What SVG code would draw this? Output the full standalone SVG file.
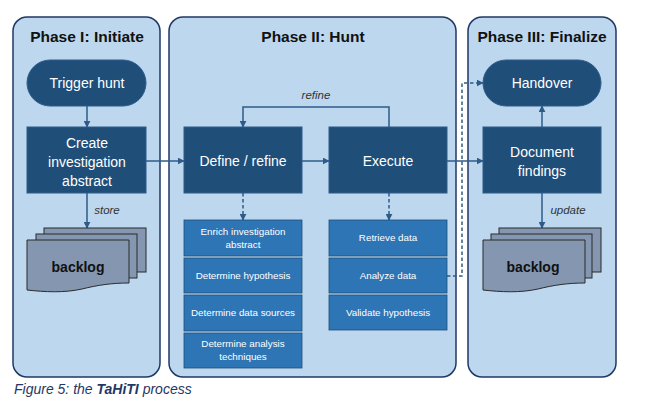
<svg xmlns="http://www.w3.org/2000/svg" width="662" height="407" viewBox="0 0 662 407">
<defs>
<style>
.panel{fill:#BDD7EE;stroke:#1F3864;stroke-width:1.5}
.title{font-family:"Liberation Sans",Arial,sans-serif;font-weight:bold;font-size:15.5px;fill:#111;text-anchor:middle}
.dark{fill:#1F4E79;stroke:#2E5C8A;stroke-width:1}
.sub{fill:#2E75B6;stroke:#1F4E79;stroke-width:0.8}
.t14{font-family:"Liberation Sans",Arial,sans-serif;font-size:14px;fill:#fff;text-anchor:middle}
.t9{font-family:"Liberation Sans",Arial,sans-serif;font-size:9.8px;fill:#fff;text-anchor:middle}
.lbl{font-family:"Liberation Sans",Arial,sans-serif;font-style:italic;font-size:11.5px;fill:#333;text-anchor:middle}
.doc{fill:#8496B0;stroke:#2B2B2B;stroke-width:1}
.bl{font-family:"Liberation Sans",Arial,sans-serif;font-weight:bold;font-size:14px;fill:#111;text-anchor:middle}
.conn{fill:none;stroke:#2E5C8A;stroke-width:1.5}
.dash{fill:none;stroke:#2E5C8A;stroke-width:1.5;stroke-dasharray:3.5,2.5}
</style>
<marker id="ah" viewBox="0 0 10 10" refX="9" refY="5" markerWidth="7" markerHeight="7" markerUnits="userSpaceOnUse" orient="auto">
<path d="M0,0 L10,5 L0,10 z" fill="#2E5C8A"/>
</marker>
</defs>

<g id="phase1">
<rect class="panel" x="13" y="17" width="147" height="360" rx="14"/>
<text class="title" x="87" y="42">Phase I: Initiate</text>
</g>
<g id="phase2">
<rect class="panel" x="169" y="17" width="287" height="360" rx="14"/>
<text class="title" x="313" y="42">Phase II: Hunt</text>
</g>
<g id="phase3">
<rect class="panel" x="468" y="17" width="148" height="360" rx="14"/>
<text class="title" x="542" y="42">Phase III: Finalize</text>
</g>

<g id="connectors">
<line class="conn" x1="87" y1="106" x2="87" y2="127" marker-end="url(#ah)"/>
<line class="conn" x1="87" y1="193" x2="87" y2="228" marker-end="url(#ah)"/>
<line class="conn" x1="146" y1="161" x2="184" y2="161" marker-end="url(#ah)"/>
<line class="conn" x1="302" y1="161" x2="329" y2="161" marker-end="url(#ah)"/>
<polyline class="conn" points="389,127 389,107 243,107 243,127" marker-end="url(#ah)"/>
<line class="dash" x1="243" y1="193" x2="243" y2="220" marker-end="url(#ah)"/>
<line class="dash" x1="389" y1="193" x2="389" y2="220" marker-end="url(#ah)"/>
<polyline class="dash" points="447,276 462,276 462,83 483,83" marker-end="url(#ah)"/>
<line class="conn" x1="447" y1="161" x2="483" y2="161" marker-end="url(#ah)"/>
<line class="conn" x1="542" y1="127" x2="542" y2="106" marker-end="url(#ah)"/>
<line class="conn" x1="542" y1="193" x2="542" y2="228" marker-end="url(#ah)"/>
<text class="lbl" x="107" y="214">store</text>
<text class="lbl" x="316" y="99">refine</text>
<text class="lbl" x="568" y="214">update</text>
</g>

<g id="trigger-hunt">
<rect class="dark" x="27" y="60" width="119" height="46" rx="23"/>
<text class="t14" x="87" y="88">Trigger hunt</text>
</g>
<g id="create-abstract">
<rect class="dark" x="27" y="127" width="119" height="66"/>
<text class="t14" x="87" y="148">Create</text>
<text class="t14" x="87" y="167">investigation</text>
<text class="t14" x="87" y="186">abstract</text>
</g>
<g id="backlog-1">
<rect class="doc" x="44" y="228" width="102" height="44"/>
<rect class="doc" x="36" y="234" width="101" height="44"/>
<path class="doc" d="M27,240 H129 V283 C112,283 98,285 82,289 C64,293 45,292 27,290 Z"/>
<text class="bl" x="78" y="272">backlog</text>
</g>

<g id="define-refine">
<rect class="dark" x="184" y="127" width="118" height="66"/>
<text class="t14" x="243" y="166">Define / refine</text>
</g>
<g id="execute">
<rect class="dark" x="329" y="127" width="118" height="66"/>
<text class="t14" x="388" y="166">Execute</text>
</g>
<g id="enrich">
<rect class="sub" x="184" y="220" width="118" height="36"/>
<text class="t9" x="243" y="235">Enrich investigation</text>
<text class="t9" x="243" y="248">abstract</text>
</g>
<g id="det-hypothesis">
<rect class="sub" x="184" y="258" width="118" height="35"/>
<text class="t9" x="243" y="279">Determine hypothesis</text>
</g>
<g id="det-sources">
<rect class="sub" x="184" y="295" width="118" height="36"/>
<text class="t9" x="243" y="316">Determine data sources</text>
</g>
<g id="det-techniques">
<rect class="sub" x="184" y="333" width="118" height="35"/>
<text class="t9" x="243" y="347">Determine analysis</text>
<text class="t9" x="243" y="360">techniques</text>
</g>
<g id="retrieve">
<rect class="sub" x="329" y="220" width="118" height="36"/>
<text class="t9" x="388" y="241">Retrieve data</text>
</g>
<g id="analyze">
<rect class="sub" x="329" y="258" width="118" height="35"/>
<text class="t9" x="388" y="279">Analyze data</text>
</g>
<g id="validate">
<rect class="sub" x="329" y="295" width="118" height="35"/>
<text class="t9" x="388" y="316">Validate hypothesis</text>
</g>

<g id="handover">
<rect class="dark" x="483" y="60" width="118" height="46" rx="23"/>
<text class="t14" x="542" y="88">Handover</text>
</g>
<g id="document-findings">
<rect class="dark" x="483" y="127" width="118" height="66"/>
<text class="t14" x="542" y="157">Document</text>
<text class="t14" x="542" y="176">findings</text>
</g>
<g id="backlog-2">
<rect class="doc" x="499" y="228" width="102" height="44"/>
<rect class="doc" x="491" y="234" width="101" height="44"/>
<path class="doc" d="M483,240 H585 V283 C568,283 554,285 538,289 C520,293 501,292 483,290 Z"/>
<text class="bl" x="533" y="272">backlog</text>
</g>

<text x="14" y="394" font-family="'Liberation Sans',Arial,sans-serif" font-style="italic" font-size="14" fill="#1F3864">Figure 5: the <tspan font-weight="bold">TaHiTI</tspan> process</text>
</svg>
